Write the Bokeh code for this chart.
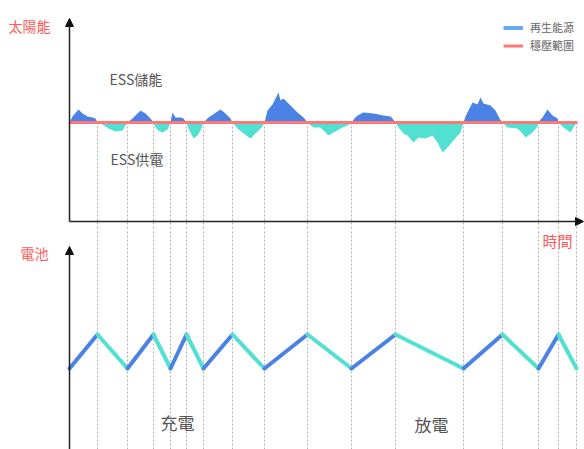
import numpy as np
from bokeh.plotting import figure
from bokeh.layouts import column
from bokeh.models import Range1d, Arrow, NormalHead, Label, Legend, LegendItem
from bokeh.embed import file_html
from bokeh.resources import INLINE

# ---------------- data ----------------
# solar surplus (+) / deficit (-) relative to the stabilised level, over time
solar_t = [0, 3, 9, 13, 18, 23, 26, 28,
           33, 39, 46, 53, 56, 58,
           63, 67, 71, 76, 81, 84,
           86, 89, 93, 98, 101,
           103, 106, 111, 114, 117,
           119, 124, 128, 131, 134,
           139, 145, 151, 156, 161, 163,
           168, 174, 181, 186, 193, 195,
           198, 203, 206, 209, 211, 214, 221, 228, 234, 238,
           244, 251, 255, 259, 264, 271, 278, 282,
           285, 288, 294, 304, 314, 321, 323, 326,
           329, 334, 338, 344, 349, 356, 363, 368, 373, 378, 384, 391, 394,
           396, 398, 403, 408, 411, 414, 421, 426, 430, 433,
           438, 448, 452, 456, 463, 468, 469,
           471, 473, 478, 483, 488, 489,
           494, 501, 504, 507]
solar_v = [0, 6, 13, 9, 6, 5, 4, 0,
           -2, -6, -9, -8, -3, 0,
           4, 8, 12, 9, 4, 0,
           -5, -8, -10, -7, 0,
           10, 5, 5, 4, 0,
           -6, -16, -13, -8, 0,
           5, 9, 13, 9, 4, 0,
           -6, -11, -16, -11, -4, 0,
           12, 18, 24, 30, 22, 24, 17, 10, 5, 0,
           -5, -5, -9, -13, -10, -6, -3, 0,
           4, 7, 10, 9, 7, 6, 4, 0,
           -5, -11, -13, -20, -15, -16, -13, -20, -30, -25, -18, -10, 0,
           6, 10, 20, 18, 25, 19, 17, 12, 4, 0,
           -5, -6, -10, -15, -10, -4, 0,
           3, 5, 13, 7, 4, 0,
           -5, -10, -5, 0]

# moments where the battery switches between charging and discharging
switch_t = [0, 28, 58, 84, 101, 117, 134, 163, 195, 238, 282, 326, 394, 433, 469, 489, 507]
battery_soc = [40, 60, 40, 60, 40, 60, 40, 60, 40, 60, 40, 60, 40, 60, 40, 60, 40]

legend_labels = ["再生能源", "穩壓範圍"]
top_labels = ["太陽能", "ESS儲能", "ESS供電"]
bottom_labels = ["電池", "時間", "充電", "放電"]

# ---------------- style ----------------
FONT = "Noto Sans CJK TC"
BLUE = "#4a82e6"
TURQ = "#52e0d2"
RED = "#ff7878"
LABEL_RED = "#ff5a5a"
DOT = "#b0b0b0"

W = 584
H_TOP = 230
H_BOT = 219
X_RANGE = (-69, 515)

# ---------------- top chart ----------------
p1 = figure(width=W, height=H_TOP, x_range=Range1d(*X_RANGE), y_range=Range1d(-108, 122),
            output_backend="svg", toolbar_location=None, min_border=0,
            x_axis_location=None, y_axis_location=None)
p1.grid.visible = False
p1.outline_line_color = None

t = np.array(solar_t, dtype=float)
v = np.array(solar_v, dtype=float)

p1.segment(x0=switch_t[1:], y0=0, x1=switch_t[1:], y1=-108,
           line_color=DOT, line_width=1, line_dash="2 2")
p1.varea(x=t, y1=0, y2=np.maximum(v, 0), fill_color=BLUE)
p1.varea(x=t, y1=np.minimum(v, 0), y2=0, fill_color=TURQ)
r_base = p1.line(x=[0, 508], y=[0, 0], line_color=RED, line_width=3)
r_blue = p1.line(x=[np.nan], y=[np.nan], line_color="#6aaaf5", line_width=4)

p1.add_layout(Arrow(end=NormalHead(size=8, fill_color="#111", line_color="#111"),
                    x_start=0, y_start=-99, x_end=0, y_end=104,
                    line_color="#222", line_width=1.5))
p1.add_layout(Arrow(end=NormalHead(size=8, fill_color="#111", line_color="#111"),
                    x_start=0, y_start=-99, x_end=514, y_end=-99,
                    line_color="#222", line_width=1.5))

legend = Legend(items=[LegendItem(label=legend_labels[0], renderers=[r_blue]),
                       LegendItem(label=legend_labels[1], renderers=[r_base])],
                location=(503, 177), border_line_color=None, background_fill_alpha=0,
                padding=0, margin=0, spacing=2, glyph_width=20, glyph_height=13,
                label_height=13, label_standoff=7, label_text_font_size="11px",
                label_text_color="#666", label_text_font=FONT)
p1.add_layout(legend)

for txt, x, y, size, color in [(top_labels[0], -61, 97, "14px", LABEL_RED),
                               (top_labels[1], 40, 44, "14px", "#555"),
                               (top_labels[2], 41, -36, "14px", "#555")]:
    p1.add_layout(Label(x=x, y=y, text=txt, text_font=FONT, text_font_size=size,
                        text_color=color, text_baseline="middle", text_align="left"))

# ---------------- bottom chart ----------------
PX = 1.7          # pixels per SOC unit
LOW_FROM_TOP = 138
s_end = 40 + LOW_FROM_TOP / PX
s_start = 40 - (H_BOT - LOW_FROM_TOP) / PX

p2 = figure(width=W, height=H_BOT, x_range=p1.x_range, y_range=Range1d(s_start, s_end),
            output_backend="svg", toolbar_location=None, min_border=0,
            x_axis_location=None, y_axis_location=None)
p2.grid.visible = False
p2.outline_line_color = None

p2.segment(x0=switch_t[1:], y0=s_start, x1=switch_t[1:], y1=s_end,
           line_color=DOT, line_width=1, line_dash="2 2")

x0 = switch_t[:-1]
x1 = switch_t[1:]
y0 = battery_soc[:-1]
y1 = battery_soc[1:]
colors = [BLUE if b > a else TURQ for a, b in zip(y0, y1)]
p2.segment(x0=x0, y0=y0, x1=x1, y1=y1, line_color=colors, line_width=4, line_cap="round")

p2.add_layout(Arrow(end=NormalHead(size=8, fill_color="#111", line_color="#111"),
                    x_start=0, y_start=s_start, x_end=0, y_end=40 + 122 / PX,
                    line_color="#222", line_width=1.5))

for txt, x, y, size, color, align in [
        (bottom_labels[0], -49, 40 + 116 / PX, "14px", LABEL_RED, "left"),
        (bottom_labels[1], 473, 40 + 128 / PX, "15px", LABEL_RED, "left"),
        (bottom_labels[2], 108, 40 - 54 / PX, "17px", "#555", "center"),
        (bottom_labels[3], 362, 40 - 56 / PX, "17px", "#555", "center")]:
    p2.add_layout(Label(x=x, y=y, text=txt, text_font=FONT, text_font_size=size,
                        text_color=color, text_baseline="middle", text_align=align))

layout = column(p1, p2, spacing=0)
open("out.html", "w").write(file_html(layout, INLINE))
